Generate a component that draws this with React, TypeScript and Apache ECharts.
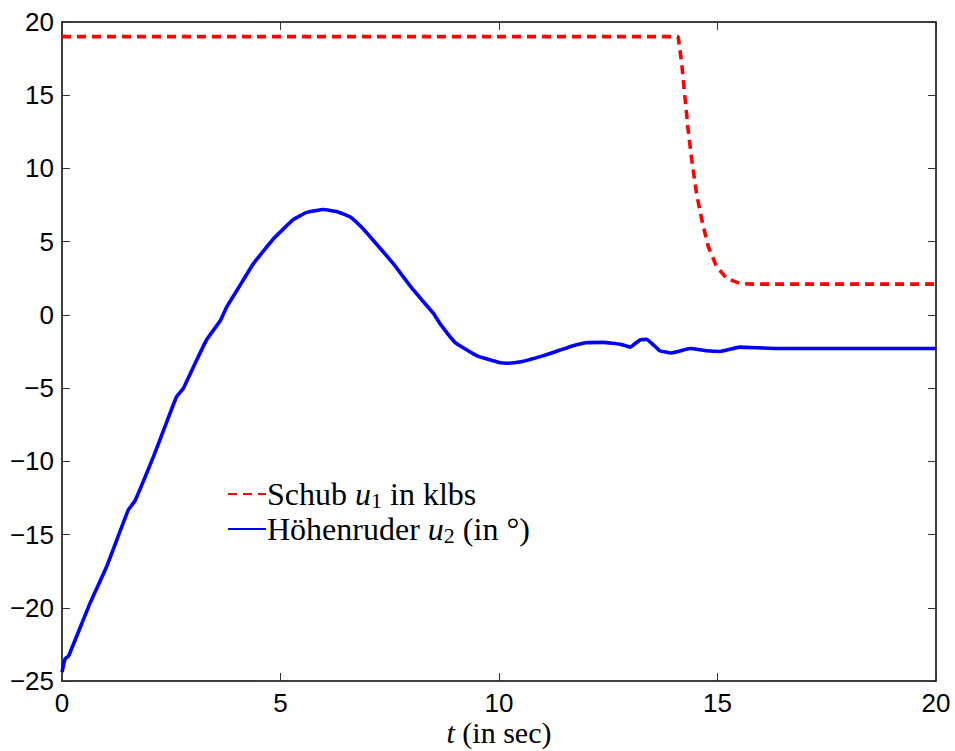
import React, { useEffect, useRef } from "react";
import * as echarts from "echarts";

// Time axis (seconds) and input histories
const thrustT = [0, 14.1, 14.18, 14.26, 14.33, 14.41, 14.52, 14.64, 14.79, 14.98, 15.21, 15.51, 15.8, 20];
const thrustV = [19, 19, 17.2, 14.7, 12.6, 10.6, 8.3, 6.5, 4.65, 3.3, 2.5, 2.15, 2.1, 2.1];

const elevT = [
  0, 0.07, 0.15, 0.64, 1.02, 1.52, 1.67, 2.09, 2.36, 2.62, 2.78, 3.08, 3.31, 3.62, 3.77, 4.07,
  4.38, 4.84, 5.29, 5.6, 5.98, 6.3, 6.59, 6.85, 7.12, 7.58, 8.04, 8.5, 8.65, 9.0, 9.5, 10.0, 10.2,
  10.5, 11.0, 11.4, 11.7, 12.0, 12.39, 12.77, 13.0, 13.23, 13.38, 13.68, 13.95, 14.37, 14.75,
  15.06, 15.51, 15.97, 16.43, 20,
];
const elevV = [
  -24.4, -23.5, -23.3, -19.7, -17.2, -13.3, -12.7, -9.7, -7.6, -5.6, -5.0, -3.1, -1.7, -0.4, 0.55, 2.0,
  3.5, 5.2, 6.5, 7.0, 7.2, 7.05, 6.7, 6.0, 5.1, 3.5, 1.7, 0.1, -0.6, -1.9, -2.8, -3.25, -3.3,
  -3.2, -2.8, -2.4, -2.1, -1.9, -1.88, -2.0, -2.2, -1.7, -1.67, -2.45, -2.6, -2.3, -2.45,
  -2.5, -2.2, -2.25, -2.3, -2.3,
];

const xTicks = { min: 0, max: 20, interval: 5 };
const yTicks = { min: -25, max: 20, interval: 5 };

const THRUST = "Schub u1 in klbs";
const ELEV = "Höhenruder u2 (in °)";

const sans = "Liberation Sans, Arial, sans-serif";
const serif = "Liberation Serif, Times New Roman, serif";

const pairs = (t: number[], v: number[]) => t.map((x, i) => [x, v[i]]);

export default function App() {
  const ref = useRef<HTMLDivElement>(null);

  useEffect(() => {
    if (!ref.current) return;
    const chart = echarts.init(ref.current, undefined, { renderer: "svg" });

    const frameLine = { show: true, onZero: false, lineStyle: { color: "#000", width: 1.5 } };
    const tick = { show: true, inside: true, length: 8, lineStyle: { color: "#333", width: 1 } };
    const tickLabel = { fontFamily: sans, fontSize: 26, color: "#000" };

    chart.setOption({
      animation: false,
      backgroundColor: "#fff",
      grid: { left: 62, right: 19, top: 22, bottom: 70, outerBoundsMode: "none" },
      xAxis: [
        {
          type: "value",
          position: "bottom",
          ...xTicks,
          axisLine: frameLine,
          axisTick: tick,
          splitLine: { show: false },
          axisLabel: { ...tickLabel, lineHeight: 24, margin: 10 },
          name: "{i|t} (in sec)",
          nameLocation: "middle",
          nameGap: 38,
          nameMoveOverlap: false,
          nameTextStyle: {
            fontFamily: serif,
            fontSize: 30,
            lineHeight: 26,
            color: "#000",
            rich: {
              i: { fontFamily: serif, fontSize: 30, lineHeight: 26, fontStyle: "italic", color: "#000" },
            },
          },
        },
        {
          type: "value",
          position: "top",
          ...xTicks,
          axisLine: frameLine,
          axisTick: tick,
          splitLine: { show: false },
          axisLabel: { show: false },
        },
      ],
      yAxis: [
        {
          type: "value",
          position: "left",
          ...yTicks,
          axisLine: frameLine,
          axisTick: tick,
          splitLine: { show: false },
          axisLabel: {
            ...tickLabel,
            margin: 8,
            formatter: (v: number) => String(v).replace("-", "\u2212"),
          },
        },
        {
          type: "value",
          position: "right",
          ...yTicks,
          axisLine: frameLine,
          axisTick: tick,
          splitLine: { show: false },
          axisLabel: { show: false },
        },
      ],
      legend: {
        orient: "vertical",
        left: 222,
        top: 472,
        itemWidth: 38,
        itemHeight: 14,
        itemGap: 1,
        itemStyle: { opacity: 0 },
        data: [THRUST, ELEV],
        formatter: (name: string) =>
          name === THRUST
            ? "{n|Schub }{i|u}{s|1}{n| in klbs}"
            : "{n|Höhenruder }{i|u}{s|2}{n| (in °)}",
        textStyle: {
          padding: [0, 0, 0, -4],
          rich: {
            n: { fontFamily: serif, fontSize: 32, lineHeight: 34, color: "#000" },
            i: { fontFamily: serif, fontSize: 32, lineHeight: 34, fontStyle: "italic", color: "#000" },
            s: { fontFamily: serif, fontSize: 22, lineHeight: 22, color: "#000", padding: [12, 0, 0, 0] },
          },
        },
      },
      series: [
        {
          name: THRUST,
          type: "line",
          data: pairs(thrustT, thrustV),
          showSymbol: false,
          symbol: "none",
          lineStyle: { color: "#ff0000", width: 3.6, type: [9, 6] },
          itemStyle: { color: "#ff0000" },
        },
        {
          name: ELEV,
          type: "line",
          data: pairs(elevT, elevV),
          showSymbol: false,
          symbol: "none",
          smooth: 0.1,
          lineStyle: { color: "#0000ff", width: 3.6 },
          itemStyle: { color: "#0000ff" },
        },
      ],
    });

    return () => chart.dispose();
  }, []);

  return (
    <div
      ref={ref}
      style={{ position: "fixed", left: 0, top: 0, width: 955, height: 751, background: "#fff" }}
    />
  );
}
